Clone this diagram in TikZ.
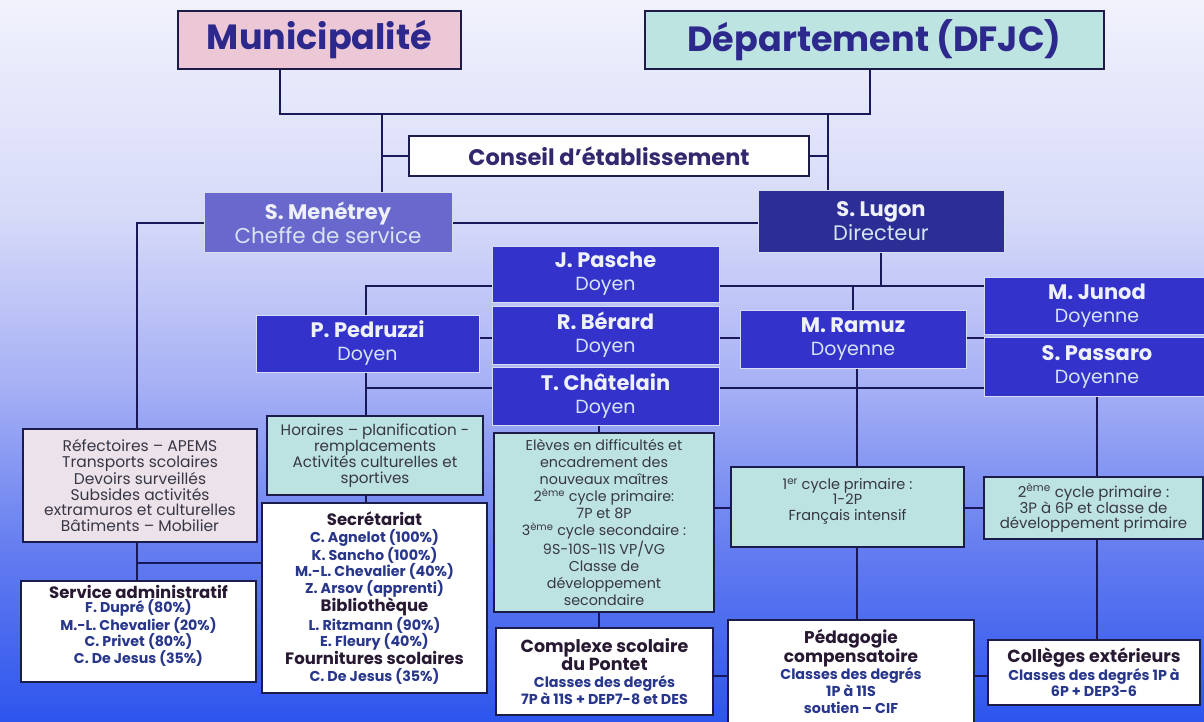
\documentclass[tikz,border=0pt]{standalone}
\usepackage{fontspec}
\setmainfont{Poppins}
\definecolor{bgtop}{RGB}{241,242,252}
\definecolor{bga}{RGB}{214,218,248}
\definecolor{bgb}{RGB}{165,175,245}
\definecolor{bgc}{RGB}{100,125,240}
\definecolor{bgd}{RGB}{45,85,238}
\definecolor{conncol}{RGB}{25,25,90}
\definecolor{darkbd}{RGB}{28,28,75}
\definecolor{lightbd}{RGB}{215,220,240}
\definecolor{titlec}{RGB}{45,40,140}
\definecolor{conseilc}{RGB}{50,40,110}
\definecolor{munifill}{RGB}{236,200,214}
\definecolor{deptfill}{RGB}{190,228,226}
\definecolor{menfill}{RGB}{105,105,205}
\definecolor{lugonfill}{RGB}{45,45,150}
\definecolor{doyenfill}{RGB}{51,51,204}
\definecolor{tealfill}{RGB}{188,226,226}
\definecolor{pinkfill}{RGB}{236,226,234}
\definecolor{nametext}{RGB}{238,242,248}
\definecolor{roletext}{RGB}{215,228,242}
\definecolor{bodytext}{RGB}{55,55,68}
\definecolor{headc}{RGB}{40,25,50}
\definecolor{itemc}{RGB}{40,55,140}
\pgfdeclareverticalshading{bgshade}{100bp}{color(0bp)=(bgd); color(25bp)=(bgd); color(37bp)=(bgc); color(48bp)=(bgb); color(60bp)=(bga); color(75bp)=(bgtop); color(100bp)=(bgtop)}
\pgfdeclarelayer{bg}
\pgfdeclarelayer{lines}
\pgfsetlayers{bg,lines,main}
\newcommand\boxhead[1]{{\fontsize{16.5}{19}\selectfont\color{headc}#1}}
\newcommand\nmline[1]{{\fontsize{21}{23}\selectfont\bfseries #1}}
\newcommand\roleline[1]{{\color{roletext}#1}}
\begin{document}
\begin{tikzpicture}[x=1pt,y=-1pt,
  conn/.style={draw=conncol,line width=2pt},
  box/.style={rectangle,inner sep=3pt,align=center},
  topbox/.style={box,draw=darkbd,line width=1.4pt,text=titlec,font=\fontsize{35}{38}\selectfont\bfseries},
  bluebox/.style={box,draw=lightbd,line width=1pt,fill=doyenfill,text=nametext,font=\fontsize{19}{23}\selectfont},
  lightbox/.style={box,draw=darkbd,line width=1.2pt,fill=tealfill,text=bodytext,font=\fontsize{15.2}{16}\selectfont},
  whitebox/.style={box,draw=darkbd,line width=1.2pt,fill=white,text=itemc,font=\fontsize{14.3}{15.5}\selectfont\bfseries}]
\begin{pgfonlayer}{bg}
\shade[shading=bgshade] (0,0) rectangle (1204,722);
\end{pgfonlayer}
\useasboundingbox (0,0) rectangle (1204,722);

% top level
\node[topbox,fill=munifill,minimum width=283pt,minimum height=58pt] (muni) at (319.5,40) {Municipalité};
\node[topbox,fill=deptfill,minimum width=459pt,minimum height=58pt] (dept) at (874.5,40) {Département (DFJC)};
\node[box,draw=darkbd,line width=1.3pt,fill=white,text=conseilc,font=\fontsize{22.5}{24}\selectfont\bfseries,minimum width=400pt,minimum height=40pt] (conseil) at (609,156) {Conseil d’établissement};

% management
\node[bluebox,fill=menfill,minimum width=248pt,minimum height=59pt,font=\fontsize{21.5}{24}\selectfont] (men) at (328,222.5) {\nmline{S. Menétrey}\\\roleline{Cheffe de service}};
\node[bluebox,fill=lugonfill,minimum width=246pt,minimum height=61pt,font=\fontsize{21}{24}\selectfont] (lugon) at (881,221.5) {\nmline{S. Lugon}\\\roleline{Directeur}};
\node[bluebox,minimum width=227pt,minimum height=56pt] (pasche) at (605.5,274) {\nmline{J. Pasche}\\\roleline{Doyen}};
\node[bluebox,minimum width=227pt,minimum height=58pt] (berard) at (605.5,335) {\nmline{R. Bérard}\\\roleline{Doyen}};
\node[bluebox,minimum width=227pt,minimum height=58pt] (chat) at (605.5,396) {\nmline{T. Châtelain}\\\roleline{Doyen}};
\node[bluebox,minimum width=223pt,minimum height=57pt] (pedr) at (367.5,343.5) {\nmline{P. Pedruzzi}\\\roleline{Doyen}};
\node[bluebox,minimum width=226pt,minimum height=58pt] (ramuz) at (853,339) {\nmline{M. Ramuz}\\\roleline{Doyenne}};
\node[bluebox,minimum width=226pt,minimum height=57pt] (junod) at (1097,305.5) {\nmline{M. Junod}\\\roleline{Doyenne}};
\node[bluebox,minimum width=226pt,minimum height=59pt] (passaro) at (1097,366.5) {\nmline{S. Passaro}\\\roleline{Doyenne}};

% tasks
\node[lightbox,fill=pinkfill,minimum width=234pt,minimum height=113pt,font=\fontsize{15.5}{15.7}\selectfont] (refect) at (140,485.5) {Réfectoires – APEMS\\Transports scolaires\\Devoirs surveillés\\Subsides activités\\extramuros et culturelles\\Bâtiments – Mobilier};
\node[lightbox,minimum width=216pt,minimum height=79pt] (horaires) at (375,455.5) {Horaires – planification -\\remplacements\\Activités culturelles et\\sportives};
\node[lightbox,minimum width=220pt,minimum height=179pt,font=\fontsize{14.3}{17}\selectfont] (eleves) at (604,522.5) {Elèves en difficultés et\\encadrement  des\\nouveaux maîtres\\2\textsuperscript{ème} cycle  primaire:\\7P et 8P\\3\textsuperscript{ème} cycle  secondaire :\\9S-10S-11S  VP/VG\\Classe de\\développement\\secondaire};
\node[lightbox,minimum width=233pt,minimum height=80pt,font=\fontsize{14.5}{15.5}\selectfont] (cycle1) at (847.5,507) {1\textsuperscript{er} cycle  primaire :\\1-2P\\Français intensif\\\mbox{}};
\node[lightbox,minimum width=219pt,minimum height=62pt,font=\fontsize{15}{14.5}\selectfont] (cycle2) at (1093.5,508) {2\textsuperscript{ème} cycle  primaire :\\3P à 6P et classe de\\développement primaire};

% staff / schools
\node[whitebox,minimum width=235pt,minimum height=101pt,font=\fontsize{14.2}{13.8}\selectfont\bfseries] (servadm) at (138.5,631.5) {\boxhead{Service administratif}\\F. Dupré (80\%)\\M.-L. Chevalier (20\%)\\C. Privet  (80\%)\\C. De Jesus (35\%)\\\mbox{}};
\node[whitebox,minimum width=225pt,minimum height=190pt,font=\fontsize{14.3}{16.5}\selectfont\bfseries] (secr) at (374.5,598) {\boxhead{Secrétariat}\\C. Agnelot (100\%)\\K. Sancho (100\%)\\M.-L. Chevalier (40\%)\\Z. Arsov (apprenti)\\\boxhead{Bibliothèque}\\L. Ritzmann (90\%)\\E. Fleury (40\%)\\\boxhead{Fournitures scolaires}\\C. De Jesus (35\%)};
\node[whitebox,minimum width=217pt,minimum height=87pt,font=\fontsize{14.3}{17}\selectfont\bfseries] (complexe) at (604.5,671.5) {\boxhead{\fontsize{17.5}{19}\selectfont Complexe scolaire}\\\boxhead{\fontsize{17.5}{19}\selectfont du Pontet}\\Classes des degrés\\7P à 11S + DEP7-8  et DES};
\node[whitebox,minimum width=246pt,minimum height=103pt,font=\fontsize{14.3}{17}\selectfont\bfseries] (pedag) at (851,671.5) {\boxhead{\fontsize{17}{19}\selectfont Pédagogie}\\\boxhead{\fontsize{17}{19}\selectfont compensatoire}\\Classes des degrés\\1P à 11S\\soutien – CIF};
\node[whitebox,minimum width=212pt,minimum height=65pt,font=\fontsize{14.3}{16}\selectfont\bfseries] (colleges) at (1094,672.5) {\boxhead{\fontsize{17.5}{19}\selectfont Collèges extérieurs}\\Classes des degrés 1P à\\6P  + DEP3-6};

% connectors
\begin{pgfonlayer}{lines}
\coordinate (jtop) at (575,114);
\draw[conn] ([xshift=-39.5pt]muni.south) |- (jtop) -| ([xshift=-4.5pt]dept.south);
\coordinate (ja) at (382,114);
\coordinate (jb) at (828,114);
\draw[conn] (ja) -- (ja |- men.north);
\draw[conn] (jb) -- (jb |- lugon.north);
\draw[conn] (conseil.west) -- (conseil.west -| ja);
\draw[conn] (conseil.east) -- (conseil.east -| jb);
\draw[conn] (men.east) -- (men.east -| lugon.west);
\coordinate (jv) at (137,222.5);
\draw[conn] (men.west) -- (jv) -- (jv |- refect.north);
\draw[conn] (jv |- refect.south) -- (jv |- servadm.north);
\coordinate (jl) at (137,563);
\draw[conn] (jl) -- (jl -| secr.west);
\coordinate (jm) at (881,286);
\draw[conn] (lugon.south) -- (jm);
\coordinate (jp) at (366,286);
\draw[conn] (jp |- pedr.north) -- (jp) -- (jm) -- (jm -| junod.west);
\draw[conn] (ramuz.north) -- (ramuz.north |- jm);
\coordinate (jr) at (700,338);
\draw[conn] (jr -| pedr.east) -- (jr -| junod.west);
\draw[conn] (jp |- pedr.south) -- (jp |- horaires.north);
\coordinate (js) at (700,388);
\draw[conn] (js -| jp) -- (js -| passaro.west);
\draw[conn] (jp |- horaires.south) -- (jp |- secr.north);
\coordinate (jc) at (599,425);
\draw[conn] (jc |- chat.south) -- (jc |- complexe.north);
\coordinate (jd) at (857,370);
\draw[conn] (jd |- ramuz.south) -- (jd |- pedag.north);
\draw[conn] (passaro.south) -- (passaro.south |- colleges.north);
\coordinate (jt) at (800,508);
\draw[conn] (jt -| eleves.east) -- (jt -| cycle2.west);
\coordinate (ju) at (800,676);
\draw[conn] (ju -| complexe.east) -- (ju -| colleges.west);
\end{pgfonlayer}
\end{tikzpicture}
\end{document}
